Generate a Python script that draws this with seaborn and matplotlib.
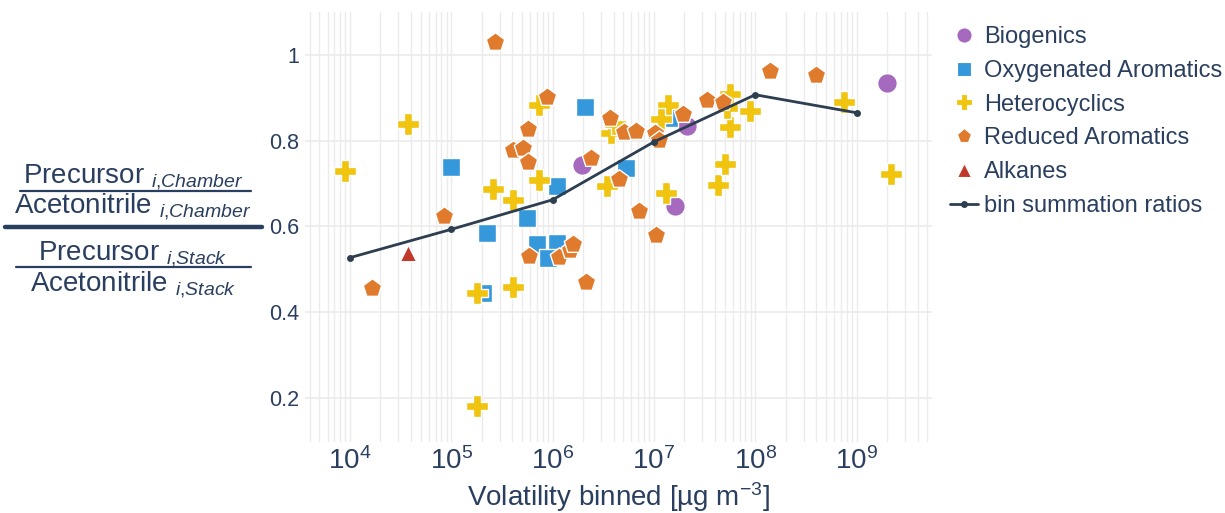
import numpy as np
import pandas as pd
import matplotlib
matplotlib.use("Agg")
import matplotlib.pyplot as plt
import seaborn as sns
from matplotlib.lines import Line2D
from matplotlib.ticker import FixedLocator, LogLocator, NullFormatter

# ---------------- data ----------------
bio_x = [1.94e6, 1.60e7, 2.14e7, 2.01e9]
bio_y = [0.742, 0.648, 0.834, 0.935]

oxy_x = [9.9e4, 1.11e6, 2.09e6, 5.62e5, 2.27e5, 6.97e5, 1.10e6, 9.08e5, 2.04e5, 5.31e6, 1.41e7]
oxy_y = [0.738, 0.694, 0.879, 0.619, 0.584, 0.559, 0.561, 0.527, 0.445, 0.737, 0.852]

het_x = [8.93e3, 3.77e4, 2.56e5, 4.09e5, 7.35e5, 7.35e5, 3.78e6, 4.13e6, 3.47e6, 1.79e5,
         4.09e5, 1.79e5, 1.32e7, 1.39e7, 1.18e7, 4.30e7, 5.07e7, 5.64e7, 5.64e7, 5.24e7,
         8.89e7, 7.59e8, 2.19e9]
het_y = [0.728, 0.839, 0.687, 0.662, 0.707, 0.884, 0.818, 0.839, 0.693, 0.445,
         0.459, 0.182, 0.677, 0.884, 0.850, 0.697, 0.746, 0.831, 0.908, 0.876,
         0.870, 0.891, 0.722]

red_x = [2.70e5, 8.75e5, 5.68e5, 4.04e5, 5.14e5, 5.68e5, 2.38e6, 3.69e6, 8.47e4, 4.55e6,
         1.66e4, 5.89e5, 1.16e6, 1.49e6, 1.60e6, 2.14e6, 7.18e6, 1.05e7, 5.07e6, 6.65e6,
         1.03e7, 1.13e7, 1.92e7, 3.38e7, 4.84e7, 1.40e8, 3.98e8]
red_y = [1.031, 0.902, 0.827, 0.778, 0.782, 0.751, 0.759, 0.852, 0.624, 0.711,
         0.457, 0.531, 0.528, 0.545, 0.558, 0.471, 0.636, 0.579, 0.819, 0.823,
         0.817, 0.802, 0.862, 0.894, 0.890, 0.963, 0.952]

alk_x = [3.77e4]
alk_y = [0.539]

bin_x = [1e4, 1e5, 1e6, 1e7, 1e8, 1e9]
bin_y = [0.527, 0.593, 0.662, 0.797, 0.907, 0.865]

groups = ["Biogenics", "Oxygenated Aromatics", "Heterocyclics", "Reduced Aromatics", "Alkanes"]
xticks = [1e4, 1e5, 1e6, 1e7, 1e8, 1e9]
xtick_labels = ["$10^{4}$", "$10^{5}$", "$10^{6}$", "$10^{7}$", "$10^{8}$", "$10^{9}$"]
yticks = [0.2, 0.4, 0.6, 0.8, 1.0]
ytick_labels = ["0.2", "0.4", "0.6", "0.8", "1"]

# ---------------- style ----------------
sns.set_theme(style="white")
plt.rcParams['font.family'] = ['Liberation Sans', 'DejaVu Sans']
plt.rcParams['mathtext.fontset'] = 'custom'
plt.rcParams['mathtext.rm'] = 'Liberation Sans'
plt.rcParams['mathtext.it'] = 'Liberation Sans:italic'
plt.rcParams['mathtext.bf'] = 'Liberation Sans:bold'
plt.rcParams['mathtext.sf'] = 'Liberation Sans'

TXT = '#2a3f5f'
LINE = '#2c3e50'
GRID = '#ebebeb'
colors = {"Biogenics": '#a569bd', "Oxygenated Aromatics": '#3498db',
          "Heterocyclics": '#f1c40f', "Reduced Aromatics": '#e07b2e', "Alkanes": '#c0392b'}
markers = {"Biogenics": 'o', "Oxygenated Aromatics": 's', "Heterocyclics": 'P',
           "Reduced Aromatics": 'p', "Alkanes": '^'}
sizes = {"Biogenics": 200, "Oxygenated Aromatics": 165, "Heterocyclics": 240,
         "Reduced Aromatics": 195, "Alkanes": 140}

data = {
    "Biogenics": pd.DataFrame({"vol": bio_x, "ratio": bio_y}),
    "Oxygenated Aromatics": pd.DataFrame({"vol": oxy_x, "ratio": oxy_y}),
    "Heterocyclics": pd.DataFrame({"vol": het_x, "ratio": het_y}),
    "Reduced Aromatics": pd.DataFrame({"vol": red_x, "ratio": red_y}),
    "Alkanes": pd.DataFrame({"vol": alk_x, "ratio": alk_y}),
}
bins = pd.DataFrame({"vol": bin_x, "ratio": bin_y})

W, H = 1225, 513
fig = plt.figure(figsize=(W / 100, H / 100), dpi=100)
ax = fig.add_axes([305 / W, 1 - 442 / H, (932 - 305) / W, (442 - 12) / H])
ax.set_xscale('log')

for i, g in enumerate(groups):
    sns.scatterplot(data=data[g], x="vol", y="ratio", ax=ax, marker=markers[g],
                    color=colors[g], s=sizes[g], edgecolor='white', linewidth=1.0,
                    legend=False, zorder=3 + i)

sns.lineplot(data=bins, x="vol", y="ratio", ax=ax, color=LINE, lw=2.0, marker='o',
             markersize=5, markeredgecolor=LINE, markeredgewidth=0, sort=False,
             estimator=None, legend=False, zorder=10)

ax.set_xlim(10 ** 3.556, 10 ** 9.745)
ax.set_ylim(0.097, 1.100)

ax.xaxis.set_major_locator(FixedLocator(xticks))
ax.set_xticklabels(xtick_labels)
ax.xaxis.set_minor_locator(LogLocator(base=10, subs=np.arange(2, 10)))
ax.xaxis.set_minor_formatter(NullFormatter())
ax.yaxis.set_major_locator(FixedLocator(yticks))
ax.set_yticklabels(ytick_labels)

ax.grid(True, which='both', axis='x', color=GRID, lw=1.0)
ax.grid(True, which='major', axis='y', color=GRID, lw=1.2)
ax.set_axisbelow(True)
for s in ax.spines.values():
    s.set_visible(False)
ax.tick_params(axis='x', which='both', length=0, pad=4, labelsize=20, labelcolor=TXT)
ax.tick_params(axis='y', which='both', length=0, pad=4, labelsize=15.5, labelcolor=TXT)

ax.set_xlabel("Volatility binned [µg m$^{-3}$]", fontsize=20, color=TXT)
ax.xaxis.set_label_coords(0.5, -(506 - 442) / 430)
ax.xaxis.label.set_verticalalignment('baseline')
ax.set_ylabel("")

# ---------------- stacked fraction y label ----------------
cx = 133 / W
fs = 20
fig.text(cx, 1 - 183 / H, "Precursor $_{i{,}Chamber}$", ha='center', va='baseline', fontsize=fs, color=TXT)
fig.text(cx, 1 - 213 / H, "Acetonitrile $_{i{,}Chamber}$", ha='center', va='baseline', fontsize=fs, color=TXT)
fig.text(cx, 1 - 260 / H, "Precursor $_{i{,}Stack}$", ha='center', va='baseline', fontsize=fs, color=TXT)
fig.text(cx, 1 - 291 / H, "Acetonitrile $_{i{,}Stack}$", ha='center', va='baseline', fontsize=fs, color=TXT)
fig.add_artist(Line2D([20 / W, 251 / W], [1 - 191 / H, 1 - 191 / H], transform=fig.transFigure, color=TXT, lw=1.6))
fig.add_artist(Line2D([5 / W, 262 / W], [1 - 227 / H, 1 - 227 / H], transform=fig.transFigure, color=TXT, lw=3.2))
fig.add_artist(Line2D([16 / W, 251 / W], [1 - 267 / H, 1 - 267 / H], transform=fig.transFigure, color=TXT, lw=1.6))

# ---------------- legend ----------------
handles = []
leg_ms = {"Biogenics": 11, "Oxygenated Aromatics": 10, "Heterocyclics": 12,
          "Reduced Aromatics": 11, "Alkanes": 10}
for g in groups:
    handles.append(Line2D([], [], ls='', marker=markers[g], color=colors[g],
                          markersize=leg_ms[g], markeredgecolor='white', markeredgewidth=0.8, label=g))
handles.append(Line2D([], [], color=LINE, lw=2, marker='o', markersize=5, markeredgewidth=0,
                      label="bin summation ratios"))
fig.legend(handles=handles, loc='upper left', bbox_to_anchor=(950 / W, 1 - 26 / H),
           frameon=False, fontsize=17, labelspacing=0.5, handlelength=1.2,
           handletextpad=0.25, borderpad=0, borderaxespad=0, labelcolor=TXT)

fig.savefig("out.png", dpi=100)
